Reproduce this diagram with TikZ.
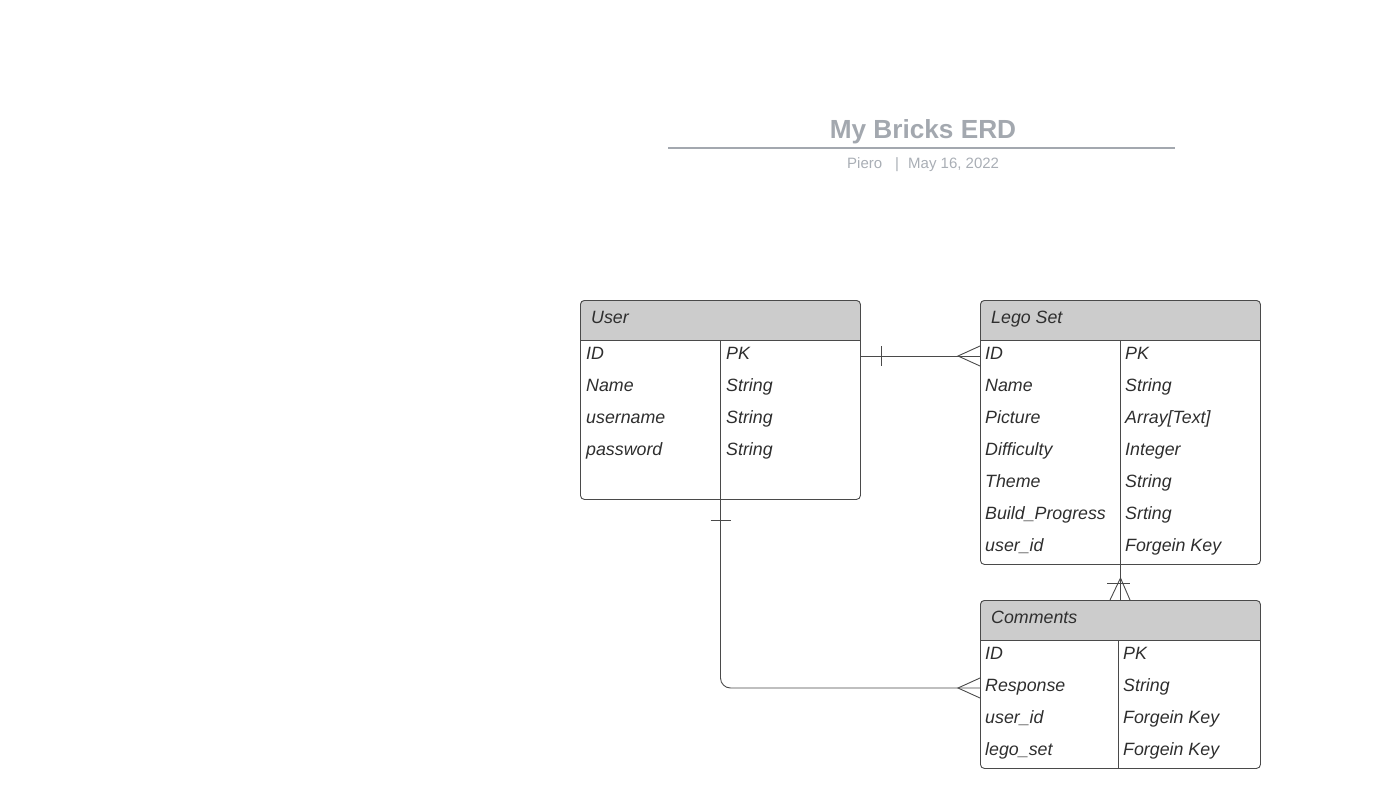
\documentclass[tikz,border=0pt]{standalone}
\usepackage{fontspec}
\setmainfont{Liberation Sans}
\definecolor{ttl}{HTML}{A3A8AF}
\definecolor{sub}{HTML}{A9AEB5}
\definecolor{hdr}{HTML}{CCCCCC}
\definecolor{edge}{HTML}{4A4A4A}
\definecolor{txt}{HTML}{2E2E2E}
\tikzset{
  tbl/.style={draw=edge, line width=0.9pt, rounded corners=4pt, inner sep=0pt, anchor=north west},
  cell/.style={anchor=base west, inner sep=0pt, text=txt, font=\fontsize{17.8}{20}\selectfont\itshape},
  conn/.style={draw=edge, line width=0.9pt},
}
\begin{document}
\begin{tikzpicture}[x=1pt,y=-1pt]
\useasboundingbox (0,0) rectangle (1387,808);

% title
\node[anchor=base, inner sep=0pt, text=ttl, font=\fontsize{26.2}{30}\selectfont\bfseries] (title) at (923,138.3) {My Bricks ERD};
\coordinate (tl) at (668,147.5);
\coordinate (tr) at (1175,147.5);
\draw[draw=ttl, line width=2pt] (tl) -- (tr);
\node[anchor=base west, inner sep=0pt, text=sub, font=\fontsize{15}{18}\selectfont] (author) at (847,168.4) {Piero};
\node[anchor=base, inner sep=0pt, text=sub, font=\fontsize{15}{18}\selectfont] (bar) at (897,168.4) {|};
\node[anchor=base west, inner sep=0pt, text=sub, font=\fontsize{15}{18}\selectfont] (date) at (908,168.4) {May 16, 2022};

% ---------- User table
\fill[hdr] (580,340) [rounded corners=4pt] -- (580,300) -- (860,300) [sharp corners] -- (860,340) -- cycle;
\node[tbl, minimum width=280pt, minimum height=199pt] (user) at (580,300) {};
\draw[edge, line width=0.9pt] (580,340) -- (860,340);
\draw[edge, line width=0.9pt] (720.5,340) -- (720.5,499);
\node[cell] (userh) at (591,323.3) {User};
\node[cell] (u1a) at (586,359.3) {ID};
\node[cell] (u1b) at (726,359.3) {PK};
\node[cell] (u2a) at (586,391.3) {Name};
\node[cell] (u2b) at (726,391.3) {String};
\node[cell] (u3a) at (586,423.3) {username};
\node[cell] (u3b) at (726,423.3) {String};
\node[cell] (u4a) at (586,455.3) {password};
\node[cell] (u4b) at (726,455.3) {String};

% ---------- Lego Set table
\fill[hdr] (980,340) [rounded corners=4pt] -- (980,300) -- (1260,300) [sharp corners] -- (1260,340) -- cycle;
\node[tbl, minimum width=280pt, minimum height=264pt] (lego) at (980,300) {};
\draw[edge, line width=0.9pt] (980,340) -- (1260,340);
\draw[edge, line width=0.9pt] (1120.5,340) -- (1120.5,564);
\node[cell] (legoh) at (991,323.3) {Lego Set};
\node[cell] (l1a) at (985,359.3) {ID};
\node[cell] (l1b) at (1125,359.3) {PK};
\node[cell] (l2a) at (985,391.3) {Name};
\node[cell] (l2b) at (1125,391.3) {String};
\node[cell] (l3a) at (985,423.3) {Picture};
\node[cell] (l3b) at (1125,423.3) {Array[Text]};
\node[cell] (l4a) at (985,455.3) {Difficulty};
\node[cell] (l4b) at (1125,455.3) {Integer};
\node[cell] (l5a) at (985,487.3) {Theme};
\node[cell] (l5b) at (1125,487.3) {String};
\node[cell] (l6a) at (985,519.3) {Build\_Progress};
\node[cell] (l6b) at (1125,519.3) {Srting};
\node[cell] (l7a) at (985,551.3) {user\_id};
\node[cell] (l7b) at (1125,551.3) {Forgein Key};

% ---------- Comments table
\fill[hdr] (980,640) [rounded corners=4pt] -- (980,600) -- (1260,600) [sharp corners] -- (1260,640) -- cycle;
\node[tbl, minimum width=280pt, minimum height=168pt] (comm) at (980,600) {};
\draw[edge, line width=0.9pt] (980,640) -- (1260,640);
\draw[edge, line width=0.9pt] (1118.5,640) -- (1118.5,768);
\node[cell] (commh) at (991,623.3) {Comments};
\node[cell] (c1a) at (985,659.3) {ID};
\node[cell] (c1b) at (1123,659.3) {PK};
\node[cell] (c2a) at (985,691.3) {Response};
\node[cell] (c2b) at (1123,691.3) {String};
\node[cell] (c3a) at (985,723.3) {user\_id};
\node[cell] (c3b) at (1123,723.3) {Forgein Key};
\node[cell] (c4a) at (985,755.3) {lego\_set};
\node[cell] (c4b) at (1123,755.3) {Forgein Key};

% ---------- connectors
% User -- Lego Set
\coordinate (ul) at (user.east |- 0,356);
\coordinate (lu) at (lego.west |- 0,356);
\draw[conn] (ul) -- (lu);
\draw[conn] (881.5,346) -- (881.5,366);
\draw[conn] (980,346) -- (958,356) -- (980,366);

% Lego Set -- Comments
\coordinate (lc) at (1120.5,564);
\coordinate (cl) at (1120.5,600);
\draw[conn] (lc) -- (cl);
\draw[conn] (1107,583.5) -- (1130,583.5);
\draw[conn] (1110,600) -- (1120.5,578) -- (1130,600);

% User -- Comments
\coordinate (uc) at (720.5,499);
\coordinate (cu) at (comm.west |- 0,688);
\draw[conn, rounded corners=10pt] (uc) -- (720.5,688) -- (cu);
\draw[conn] (710.5,520) -- (730.5,520);
\draw[conn] (980,678) -- (958,688) -- (980,698);
\end{tikzpicture}
\end{document}
